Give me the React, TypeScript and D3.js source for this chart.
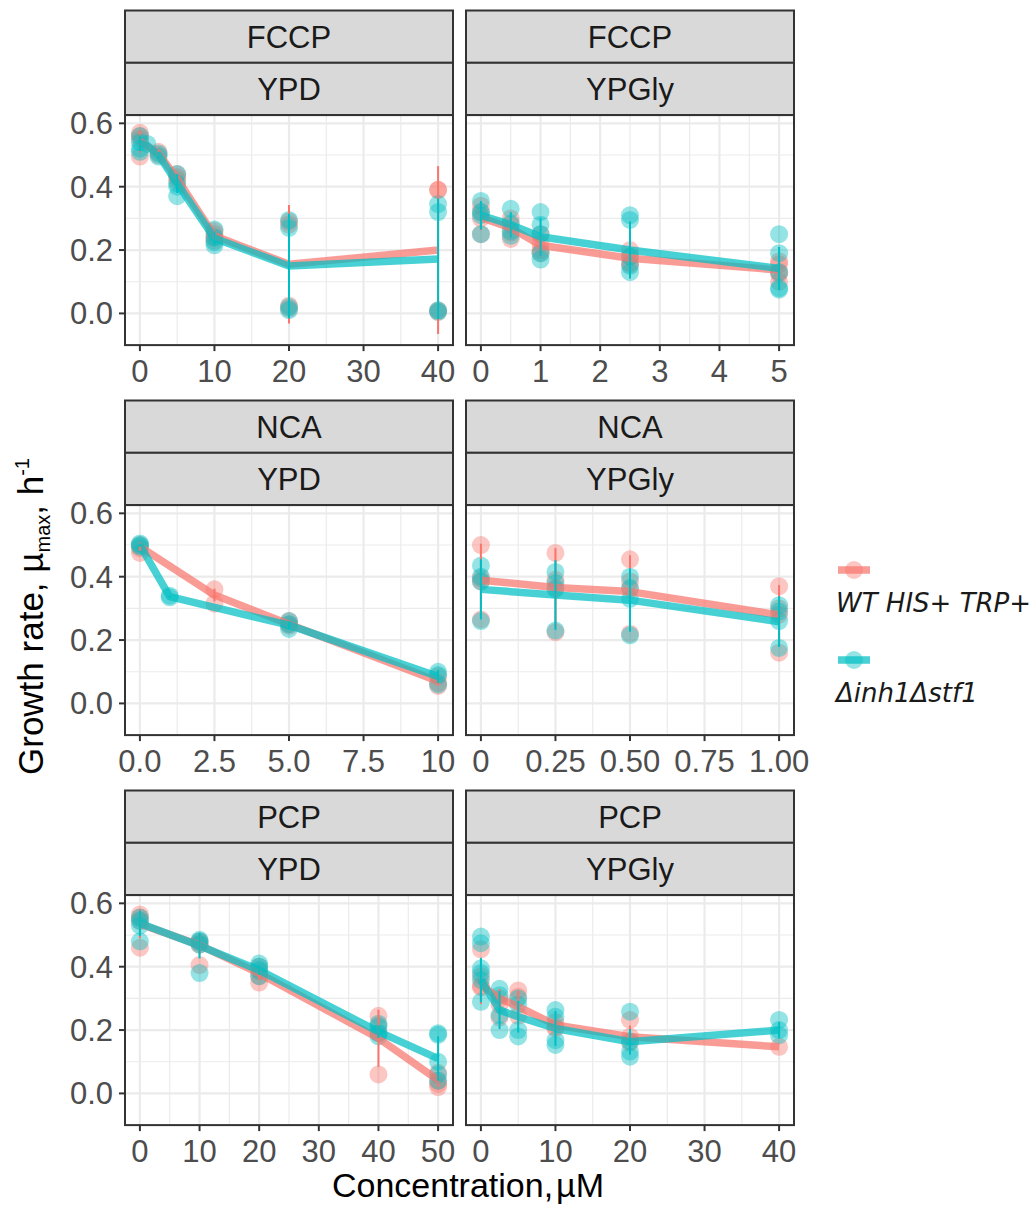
import React from "react";
import * as d3 from "d3";

// one row per concentration: raw replicate points, line mean, errorbar half-height
type Obs = { x: number; pts: number[]; m: number; e: number };

const chemicals = ["FCCP", "NCA", "PCP"];
const media = ["YPD", "YPGly"];
const strains = ["WT HIS+ TRP+", "Δinh1Δstf1"];
const strainColors = ["#F8766D", "#00BFC4"];

const yTicks = [0, 0.2, 0.4, 0.6];
const yTickLabels = ["0.0", "0.2", "0.4", "0.6"];

const fccpYpdTicks = [0, 10, 20, 30, 40];
const fccpYpdLabels = ["0", "10", "20", "30", "40"];
const fccpYpglyTicks = [0, 1, 2, 3, 4, 5];
const fccpYpglyLabels = ["0", "1", "2", "3", "4", "5"];
const ncaYpdTicks = [0, 2.5, 5, 7.5, 10];
const ncaYpdLabels = ["0.0", "2.5", "5.0", "7.5", "10"];
const ncaYpglyTicks = [0, 0.25, 0.5, 0.75, 1];
const ncaYpglyLabels = ["0", "0.25", "0.50", "0.75", "1.00"];
const pcpYpdTicks = [0, 10, 20, 30, 40, 50];
const pcpYpdLabels = ["0", "10", "20", "30", "40", "50"];
const pcpYpglyTicks = [0, 10, 20, 30, 40];
const pcpYpglyLabels = ["0", "10", "20", "30", "40"];

const fccpYpdWt: Obs[] = [
  { x: 0, pts: [0.57, 0.56, 0.55, 0.495], m: 0.543, e: 0.035 },
  { x: 2.5, pts: [0.51, 0.5], m: 0.505, e: 0.01 },
  { x: 5, pts: [0.44, 0.43, 0.42], m: 0.425, e: 0.015 },
  { x: 10, pts: [0.26, 0.25, 0.24, 0.23], m: 0.245, e: 0.015 },
  { x: 20, pts: [0.29, 0.28, 0.025, 0.015], m: 0.155, e: 0.187 },
  { x: 40, pts: [0.39, 0.39, 0.01, 0.005], m: 0.2, e: 0.265 },
];
const fccpYpdMut: Obs[] = [
  { x: 0, pts: [0.56, 0.54, 0.52, 0.51], m: 0.537, e: 0.025 },
  { x: 1, pts: [0.535], m: 0.53, e: 0 },
  { x: 2.5, pts: [0.505, 0.495], m: 0.5, e: 0.01 },
  { x: 5, pts: [0.44, 0.41, 0.4, 0.37], m: 0.41, e: 0.03 },
  { x: 10, pts: [0.265, 0.24, 0.225, 0.215], m: 0.237, e: 0.022 },
  { x: 20, pts: [0.295, 0.27, 0.02, 0.01], m: 0.15, e: 0.165 },
  { x: 40, pts: [0.345, 0.32, 0.01, 0.005], m: 0.172, e: 0.19 },
];

const fccpYpglyWt: Obs[] = [
  { x: 0, pts: [0.34, 0.32, 0.3, 0.25], m: 0.303, e: 0.04 },
  { x: 0.5, pts: [0.3, 0.28, 0.255, 0.235], m: 0.27, e: 0.03 },
  { x: 1, pts: [0.25, 0.22, 0.2, 0.19], m: 0.215, e: 0.03 },
  { x: 2.5, pts: [0.2, 0.18, 0.16, 0.155], m: 0.174, e: 0.02 },
  { x: 5, pts: [0.165, 0.155, 0.13, 0.125, 0.1], m: 0.137, e: 0.025 },
];
const fccpYpglyMut: Obs[] = [
  { x: 0, pts: [0.355, 0.31, 0.32, 0.25], m: 0.31, e: 0.045 },
  { x: 0.5, pts: [0.33, 0.285, 0.26, 0.245], m: 0.28, e: 0.04 },
  { x: 1, pts: [0.32, 0.28, 0.25, 0.19, 0.17], m: 0.242, e: 0.06 },
  { x: 2.5, pts: [0.31, 0.295, 0.18, 0.15, 0.13], m: 0.2, e: 0.09 },
  { x: 5, pts: [0.25, 0.19, 0.13, 0.08, 0.075], m: 0.142, e: 0.068 },
];

const ncaYpdWt: Obs[] = [
  { x: 0, pts: [0.5, 0.49, 0.475], m: 0.495, e: 0.013 },
  { x: 2.5, pts: [0.36, 0.315], m: 0.342, e: 0.02 },
  { x: 5, pts: [0.26, 0.25, 0.245], m: 0.25, e: 0.01 },
  { x: 10, pts: [0.085, 0.065, 0.055], m: 0.07, e: 0.015 },
];
const ncaYpdMut: Obs[] = [
  { x: 0, pts: [0.505, 0.5, 0.495], m: 0.5, e: 0.005 },
  { x: 1, pts: [0.34, 0.335], m: 0.337, e: 0.003 },
  { x: 5, pts: [0.26, 0.25, 0.235], m: 0.247, e: 0.012 },
  { x: 10, pts: [0.1, 0.09, 0.06], m: 0.085, e: 0.02 },
];

const ncaYpglyWt: Obs[] = [
  { x: 0, pts: [0.5, 0.395, 0.385, 0.265], m: 0.389, e: 0.115 },
  { x: 0.25, pts: [0.475, 0.39, 0.365, 0.225], m: 0.366, e: 0.124 },
  { x: 0.5, pts: [0.455, 0.385, 0.36, 0.22], m: 0.353, e: 0.115 },
  { x: 1, pts: [0.37, 0.3, 0.28, 0.16], m: 0.279, e: 0.095 },
];
const ncaYpglyMut: Obs[] = [
  { x: 0, pts: [0.435, 0.4, 0.385, 0.26], m: 0.36, e: 0.095 },
  { x: 0.25, pts: [0.415, 0.38, 0.36, 0.23], m: 0.342, e: 0.11 },
  { x: 0.5, pts: [0.4, 0.365, 0.33, 0.215], m: 0.326, e: 0.1 },
  { x: 1, pts: [0.31, 0.29, 0.26, 0.175], m: 0.258, e: 0.08 },
];

const pcpYpdWt: Obs[] = [
  { x: 0, pts: [0.565, 0.555, 0.545, 0.46], m: 0.535, e: 0.045 },
  { x: 10, pts: [0.48, 0.475, 0.47, 0.405], m: 0.468, e: 0.03 },
  { x: 20, pts: [0.4, 0.385, 0.37, 0.35], m: 0.379, e: 0.02 },
  { x: 40, pts: [0.245, 0.215, 0.19, 0.06], m: 0.174, e: 0.09 },
  { x: 50, pts: [0.065, 0.04, 0.03, 0.02], m: 0.042, e: 0.02 },
];
const pcpYpdMut: Obs[] = [
  { x: 0, pts: [0.555, 0.545, 0.53, 0.48], m: 0.537, e: 0.04 },
  { x: 10, pts: [0.485, 0.48, 0.47, 0.38], m: 0.466, e: 0.04 },
  { x: 20, pts: [0.41, 0.4, 0.39, 0.37], m: 0.389, e: 0.015 },
  { x: 40, pts: [0.22, 0.21, 0.19, 0.18], m: 0.195, e: 0.02 },
  { x: 50, pts: [0.19, 0.185, 0.1, 0.06, 0.04], m: 0.11, e: 0.07 },
];

const pcpYpglyWt: Obs[] = [
  { x: 0, pts: [0.455, 0.37, 0.34, 0.335], m: 0.342, e: 0.06 },
  { x: 2.5, pts: [0.3, 0.28, 0.24], m: 0.3, e: 0.03 },
  { x: 5, pts: [0.325, 0.305, 0.245], m: 0.274, e: 0.05 },
  { x: 10, pts: [0.225, 0.21, 0.205], m: 0.216, e: 0.02 },
  { x: 20, pts: [0.232, 0.179, 0.16], m: 0.179, e: 0.035 },
  { x: 40, pts: [0.147], m: 0.147, e: 0 },
];
const pcpYpglyMut: Obs[] = [
  { x: 0, pts: [0.495, 0.474, 0.395, 0.38, 0.358, 0.289], m: 0.358, e: 0.07 },
  { x: 2.5, pts: [0.33, 0.31, 0.247, 0.2], m: 0.263, e: 0.06 },
  { x: 5, pts: [0.3, 0.28, 0.2, 0.18], m: 0.242, e: 0.05 },
  { x: 10, pts: [0.263, 0.242, 0.168, 0.153], m: 0.205, e: 0.055 },
  { x: 20, pts: [0.258, 0.165, 0.132, 0.116], m: 0.163, e: 0.04 },
  { x: 40, pts: [0.232, 0.2, 0.184], m: 0.2, e: 0.025 },
];

const panels = [
  { chem: 0, med: 0, ticks: fccpYpdTicks, labels: fccpYpdLabels, series: [fccpYpdWt, fccpYpdMut] },
  { chem: 0, med: 1, ticks: fccpYpglyTicks, labels: fccpYpglyLabels, series: [fccpYpglyWt, fccpYpglyMut] },
  { chem: 1, med: 0, ticks: ncaYpdTicks, labels: ncaYpdLabels, series: [ncaYpdWt, ncaYpdMut] },
  { chem: 1, med: 1, ticks: ncaYpglyTicks, labels: ncaYpglyLabels, series: [ncaYpglyWt, ncaYpglyMut] },
  { chem: 2, med: 0, ticks: pcpYpdTicks, labels: pcpYpdLabels, series: [pcpYpdWt, pcpYpdMut] },
  { chem: 2, med: 1, ticks: pcpYpglyTicks, labels: pcpYpglyLabels, series: [pcpYpglyWt, pcpYpglyMut] },
];

// layout
const W = 1036;
const H = 1207;
const colLeft = [125, 466];
const panelW = 328;
const rowTop = [10.5, 400.5, 790.5];
const stripH = 52.3;
const plotH = 230;
const FONT = "'Liberation Sans', Arial, Helvetica, sans-serif";

const Panel = ({ p }: { p: (typeof panels)[number] }) => {
  const x0 = colLeft[p.med];
  const top = rowTop[p.chem];
  const plotTop = top + 2 * stripH;
  const plotBottom = plotTop + plotH;

  const lo = d3.min(p.ticks) as number;
  const hi = d3.max(p.ticks) as number;
  const pad = (hi - lo) * 0.05;
  const x = d3.scaleLinear().domain([lo - pad, hi + pad]).range([x0, x0 + panelW]);
  const y = d3.scaleLinear().domain([-0.1, 0.626]).range([plotBottom, plotTop]);

  const xMinor = d3.pairs(p.ticks).map(([a, b]) => (a + b) / 2);
  const yMinor = [-0.1, 0.1, 0.3, 0.5];

  const line = d3
    .line<Obs>()
    .x((d) => x(d.x))
    .y((d) => y(d.m));

  return (
    <g>
      {/* strips */}
      {[chemicals[p.chem], media[p.med]].map((lab, i) => (
        <g key={lab + i}>
          <rect x={x0} y={top + i * stripH} width={panelW} height={stripH} fill="#d9d9d9" stroke="#333333" strokeWidth={2} />
          <text
            x={x0 + panelW / 2}
            y={top + i * stripH + stripH / 2 + 11}
            textAnchor="middle"
            fontFamily={FONT}
            fontSize={31}
            fill="#1a1a1a"
          >
            {lab}
          </text>
        </g>
      ))}

      <rect x={x0} y={plotTop} width={panelW} height={plotH} fill="white" />
      {/* grid */}
      {yMinor.map((v) => (
        <line key={"ym" + v} x1={x0} x2={x0 + panelW} y1={y(v)} y2={y(v)} stroke="#ebebeb" strokeWidth={1.2} />
      ))}
      {xMinor.map((v) => (
        <line key={"xm" + v} x1={x(v)} x2={x(v)} y1={plotTop} y2={plotBottom} stroke="#ebebeb" strokeWidth={1.2} />
      ))}
      {yTicks.map((v) => (
        <line key={"yg" + v} x1={x0} x2={x0 + panelW} y1={y(v)} y2={y(v)} stroke="#ebebeb" strokeWidth={2.2} />
      ))}
      {p.ticks.map((v) => (
        <line key={"xg" + v} x1={x(v)} x2={x(v)} y1={plotTop} y2={plotBottom} stroke="#ebebeb" strokeWidth={2.2} />
      ))}

      {/* points */}
      {p.series.map((s, si) => (
        <g key={"pts" + si} fill={strainColors[si]} fillOpacity={0.42}>
          {s.flatMap((d) => d.pts.map((v, k) => <circle key={d.x + "-" + k} cx={x(d.x)} cy={y(v)} r={9} />))}
        </g>
      ))}
      {/* mean lines */}
      {p.series.map((s, si) => (
        <path key={"ln" + si} d={line(s) || ""} fill="none" stroke={strainColors[si]} strokeWidth={7.5} strokeOpacity={0.72} strokeLinejoin="round" />
      ))}
      {/* error bars */}
      {p.series.map((s, si) => (
        <g key={"eb" + si} stroke={strainColors[si]} strokeWidth={2}>
          {s
            .filter((d) => d.e > 0)
            .map((d) => (
              <line key={d.x} x1={x(d.x)} x2={x(d.x)} y1={y(d.m - d.e)} y2={y(d.m + d.e)} />
            ))}
        </g>
      ))}

      <rect x={x0} y={plotTop} width={panelW} height={plotH} fill="none" stroke="#333333" strokeWidth={2} />

      {/* x axis */}
      {p.ticks.map((v, i) => (
        <g key={"xt" + v}>
          <line x1={x(v)} x2={x(v)} y1={plotBottom} y2={plotBottom + 6} stroke="#333333" strokeWidth={2} />
          <text x={x(v)} y={plotBottom + 37} textAnchor="middle" fontFamily={FONT} fontSize={31} fill="#4d4d4d">
            {p.labels[i]}
          </text>
        </g>
      ))}
      {/* y axis on left column */}
      {p.med === 0 &&
        yTicks.map((v, i) => (
          <g key={"yt" + v}>
            <line x1={x0 - 6} x2={x0} y1={y(v)} y2={y(v)} stroke="#333333" strokeWidth={2} />
            <text x={x0 - 12} y={y(v) + 11} textAnchor="end" fontFamily={FONT} fontSize={31} fill="#4d4d4d">
              {yTickLabels[i]}
            </text>
          </g>
        ))}
    </g>
  );
};

const App = () => {
  return (
    <div style={{ position: "absolute", left: 0, top: 0 }}>
      <svg width={W} height={H} style={{ display: "block", background: "white" }}>
        <rect width={W} height={H} fill="white" />
        {panels.map((p) => (
          <Panel key={p.chem + "-" + p.med} p={p} />
        ))}

        {/* axis titles */}
        <text x={468} y={1197} textAnchor="middle" fontFamily={FONT} fontSize={34} fill="black">
          Concentration,<tspan dx={3}>µM</tspan>
        </text>
        <text transform="translate(43,775) rotate(-90)" fontFamily={FONT} fontSize={35} fill="black">
          Growth rate, µ
          <tspan fontSize={20} dy={7}>max</tspan>
          <tspan dy={-7}>, h</tspan>
          <tspan fontSize={20} dy={-14}>-1</tspan>
        </text>

        {/* legend */}
        {strains.map((s, i) => {
          const cy = 570 + i * 90;
          return (
            <g key={s}>
              <line x1={838} x2={870} y1={cy} y2={cy} stroke={strainColors[i]} strokeWidth={7.5} strokeOpacity={0.72} />
              <circle cx={854} cy={cy} r={9} fill={strainColors[i]} fillOpacity={0.42} />
              <text x={836} y={cy + 42} fontFamily="'DejaVu Sans', sans-serif" fontStyle="italic" fontSize={26} fill="#1a1a1a">
                {s}
              </text>
            </g>
          );
        })}
      </svg>
    </div>
  );
};

export default App;
